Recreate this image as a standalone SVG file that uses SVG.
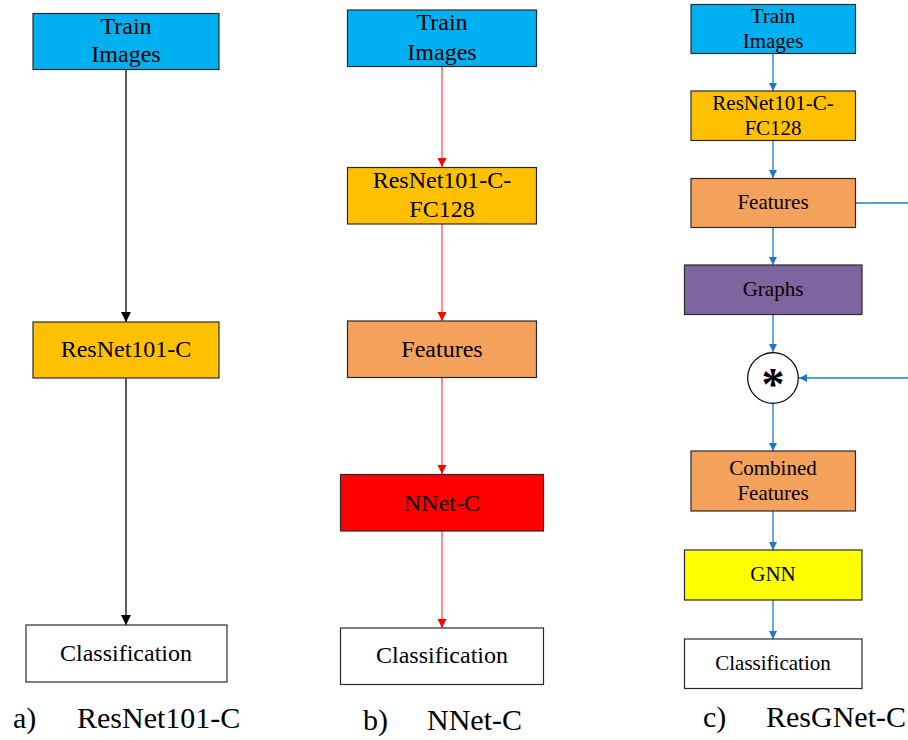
<svg xmlns="http://www.w3.org/2000/svg" width="908" height="740" viewBox="0 0 908 740">
<style>
.n{stroke:#2a2a2a;stroke-width:1.2}
.t,.tc,.lab,.ast{font-family:"Liberation Serif",Tinos,"Times New Roman","DejaVu Serif",serif}
.t{font-size:24px;fill:#000;text-anchor:middle}
.tc{font-size:21px;fill:#000;text-anchor:middle}
.lab{font-size:30px;fill:#000}
.ast{font-size:46px;font-weight:bold;text-anchor:middle}
.ka{stroke:#000;stroke-width:1.3;fill:none}
.kb{stroke:#ff4d4d;stroke-width:1.3;fill:none}
.kc{stroke:#1f78c6;stroke-width:1.3;fill:none}
</style>
<defs>
<marker id="ma" viewBox="0 0 10 10" refX="10" refY="5" markerUnits="userSpaceOnUse" markerWidth="10" markerHeight="10" orient="auto"><path d="M0,0 L10,5 L0,10 z" fill="#000"/></marker>
<marker id="mb" viewBox="0 0 10 10" refX="10" refY="5" markerUnits="userSpaceOnUse" markerWidth="9" markerHeight="9" orient="auto"><path d="M0,0 L10,5 L0,10 z" fill="#ff0000"/></marker>
<marker id="mc" viewBox="0 0 10 10" refX="10" refY="5" markerUnits="userSpaceOnUse" markerWidth="8" markerHeight="8" orient="auto"><path d="M0,0 L10,5 L0,10 z" fill="#1f78c6"/></marker>
</defs>
<rect width="908" height="740" fill="#fff"/>

<g id="connectors">
<line class="ka" x1="126" y1="70" x2="126" y2="322" marker-end="url(#ma)"/>
<line class="ka" x1="126" y1="378" x2="126" y2="625" marker-end="url(#ma)"/>
<line class="kb" x1="442" y1="67" x2="442" y2="167" marker-end="url(#mb)"/>
<line class="kb" x1="442" y1="224" x2="442" y2="321" marker-end="url(#mb)"/>
<line class="kb" x1="442" y1="378" x2="442" y2="474" marker-end="url(#mb)"/>
<line class="kb" x1="442" y1="531" x2="442" y2="628" marker-end="url(#mb)"/>
<line class="kc" x1="773" y1="53" x2="773" y2="91" marker-end="url(#mc)"/>
<line class="kc" x1="773" y1="141" x2="773" y2="178" marker-end="url(#mc)"/>
<line class="kc" x1="773" y1="228" x2="773" y2="265" marker-end="url(#mc)"/>
<line class="kc" x1="773" y1="314" x2="773" y2="352" marker-end="url(#mc)"/>
<line class="kc" x1="773" y1="403" x2="773" y2="451" marker-end="url(#mc)"/>
<line class="kc" x1="773" y1="511" x2="773" y2="550" marker-end="url(#mc)"/>
<line class="kc" x1="773" y1="600" x2="773" y2="639" marker-end="url(#mc)"/>
<line class="kc" x1="855" y1="203" x2="908" y2="203"/>
<line class="kc" x1="908" y1="378" x2="799" y2="378" marker-end="url(#mc)"/>
</g>

<g id="a_train"><rect class="n" x="33" y="13.5" width="186" height="56" fill="#00b0f0"/><text class="t" x="126" y="34">Train</text><text class="t" x="126" y="62">Images</text></g>
<g id="a_resnet"><rect class="n" x="33" y="322" width="186" height="56" fill="#ffc000"/><text class="t" x="126" y="357">ResNet101-C</text></g>
<g id="a_class"><rect class="n" x="26" y="625" width="201" height="57" fill="#fff"/><text class="t" x="126" y="661">Classification</text></g>
<g id="a_label"><text class="lab" x="13" y="728">a)</text><text class="lab" x="77" y="728">ResNet101-C</text></g>

<g id="b_train"><rect class="n" x="347.5" y="10" width="189" height="56.5" fill="#00b0f0"/><text class="t" x="442" y="30">Train</text><text class="t" x="442" y="60">Images</text></g>
<g id="b_resnet"><rect class="n" x="347.5" y="167.5" width="189" height="56.5" fill="#ffc000"/><text class="t" x="442" y="188">ResNet101-C-</text><text class="t" x="442" y="217">FC128</text></g>
<g id="b_features"><rect class="n" x="347.5" y="321" width="189" height="56.5" fill="#f4a15b"/><text class="t" x="442" y="357">Features</text></g>
<g id="b_nnet"><rect class="n" x="340.5" y="474.5" width="203" height="56.5" fill="#ff0000"/><text class="t" x="442" y="511">NNet-C</text></g>
<g id="b_class"><rect class="n" x="340.5" y="628" width="203" height="56.5" fill="#fff"/><text class="t" x="442" y="663">Classification</text></g>
<g id="b_label"><text class="lab" x="363" y="730">b)</text><text class="lab" x="427" y="730">NNet-C</text></g>

<g id="c_train"><rect class="n" x="691" y="4.5" width="164.5" height="49" fill="#00b0f0"/><text class="tc" x="773" y="23">Train</text><text class="tc" x="773" y="48">Images</text></g>
<g id="c_resnet"><rect class="n" x="691" y="91" width="164.5" height="49.5" fill="#ffc000"/><text class="tc" x="773" y="110">ResNet101-C-</text><text class="tc" x="773" y="135">FC128</text></g>
<g id="c_features"><rect class="n" x="691" y="178.5" width="164.5" height="49" fill="#f4a15b"/><text class="tc" x="773" y="209">Features</text></g>
<g id="c_graphs"><rect class="n" x="684.5" y="265" width="177.5" height="49.5" fill="#7f65a0"/><text class="tc" x="773" y="296">Graphs</text></g>
<g id="c_mult"><circle cx="773" cy="378" r="25.3" fill="#fff" stroke="#000" stroke-width="1.2"/><text class="ast" x="773" y="400">*</text></g>
<g id="c_combined"><rect class="n" x="691" y="451" width="164.5" height="60" fill="#f4a15b"/><text class="tc" x="773" y="475">Combined</text><text class="tc" x="773" y="500">Features</text></g>
<g id="c_gnn"><rect class="n" x="684.5" y="550" width="177.5" height="50" fill="#ffff00"/><text class="tc" x="773" y="581">GNN</text></g>
<g id="c_class"><rect class="n" x="684.5" y="639" width="177.5" height="49.5" fill="#fff"/><text class="tc" x="773" y="670">Classification</text></g>
<g id="c_label"><text class="lab" x="703" y="727">c)</text><text class="lab" x="766" y="727">ResGNet-C</text></g>
</svg>
